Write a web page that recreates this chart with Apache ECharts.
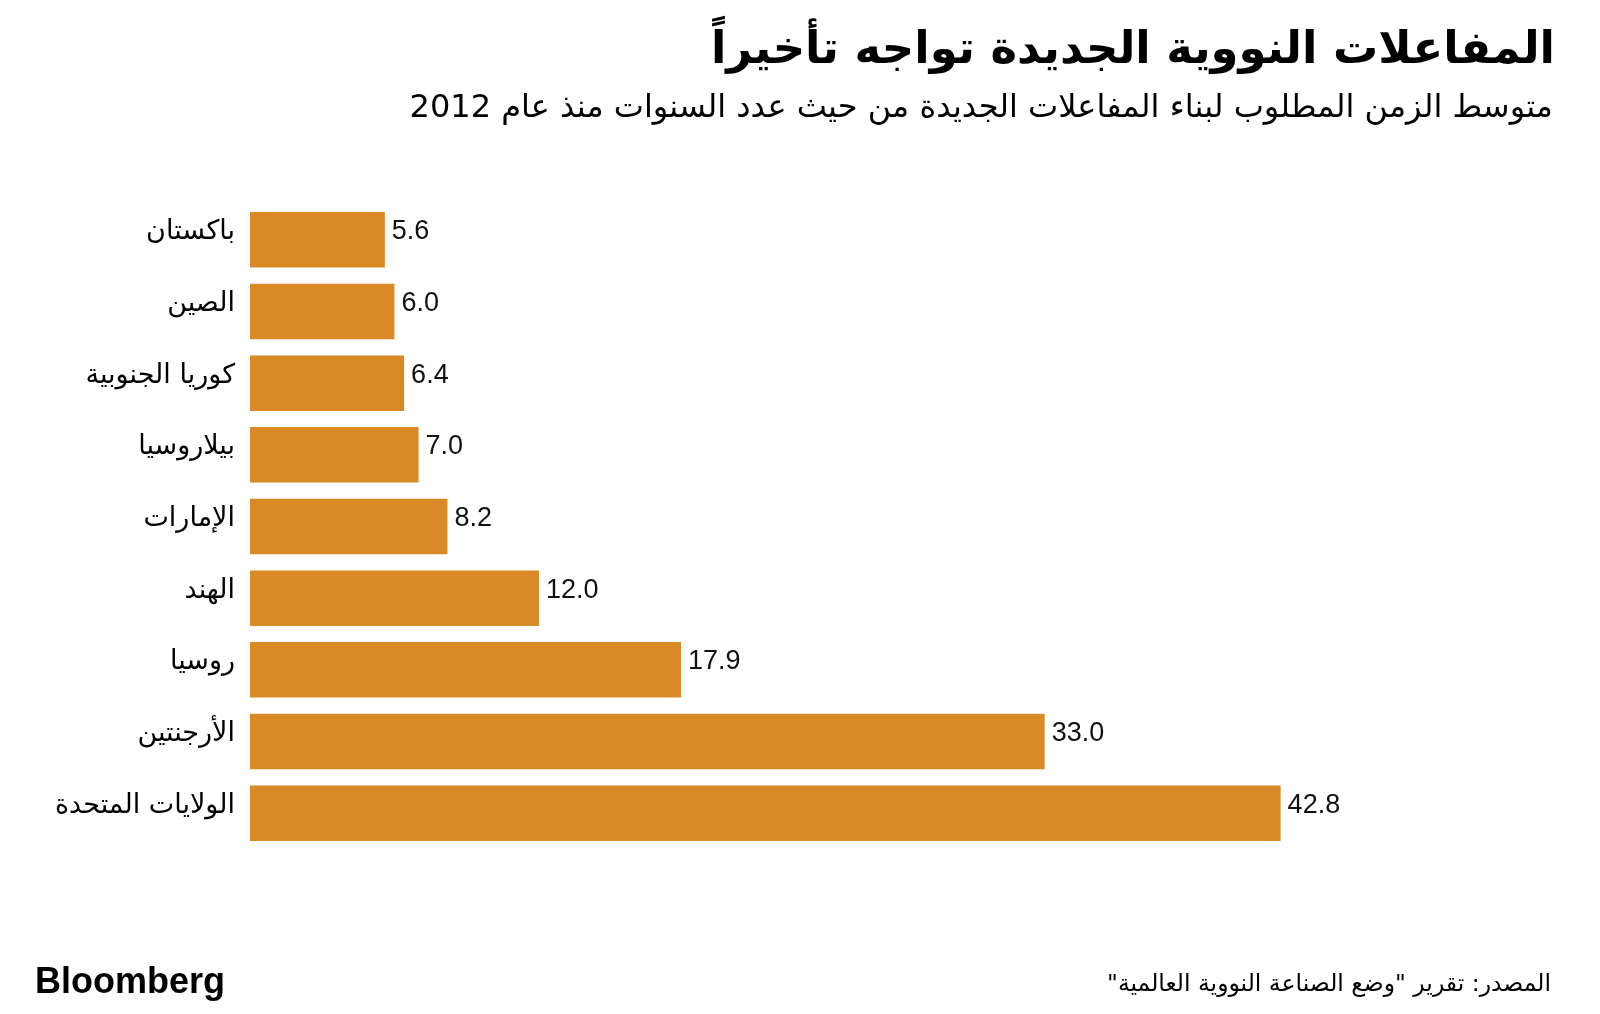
<!DOCTYPE html>
<html dir="rtl">
<head>
<meta charset="utf-8">
<script src="https://cdn.jsdelivr.net/npm/echarts@6/dist/echarts.min.js"></script>
<style>
html,body{margin:0;padding:0;background:#fff;}
#c{width:1600px;height:1014px;}
</style>
</head>
<body>
<div id="c"></div>
<script>
const categories = ["باكستان","الصين","كوريا الجنوبية","بيلاروسيا","الإمارات","الهند","روسيا","الأرجنتين","الولايات المتحدة"];
const values = [5.6, 6.0, 6.4, 7.0, 8.2, 12.0, 17.9, 33.0, 42.8];
const titleText = "المفاعلات النووية الجديدة تواجه تأخيراً";
const subtitleText = "متوسط الزمن المطلوب لبناء المفاعلات الجديدة من حيث عدد السنوات منذ عام 2012";
const sourceText = "المصدر: تقرير \"وضع الصناعة النووية العالمية\"";
const brandText = "Bloomberg";

const chart = echarts.init(document.getElementById('c'), null, {renderer:'canvas'});
chart.setOption({
  animation:false,
  backgroundColor:'#fff',
  title:[
    {text:titleText, right:40, top:24, textStyle:{fontSize:45, fontWeight:'bold', color:'#000', fontFamily:'DejaVu Sans'}},
    {text:subtitleText, right:42, top:88, textStyle:{fontSize:32, fontWeight:'normal', color:'#000', fontFamily:'DejaVu Sans'}},
    {text:sourceText, right:44, top:968, textStyle:{fontSize:23.5, fontWeight:'normal', color:'#000', fontFamily:'DejaVu Sans'}},
    {text:brandText, left:30, top:960, textStyle:{fontSize:36, fontWeight:'bold', color:'#000', fontFamily:'Liberation Sans'}}
  ],
  grid:{left:250, top:204, width:1204, height:645, containLabel:false},
  xAxis:{type:'value', min:0, max:50, show:false},
  yAxis:{type:'category', data:categories, inverse:true,
    axisLine:{show:false}, axisTick:{show:false},
    axisLabel:{margin:15, fontSize:27, color:'#000', fontFamily:'DejaVu Sans', verticalAlign:'bottom', lineHeight:15}},
  series:[{type:'bar', data:values, barCategoryGap:'22.6%',
    itemStyle:{color:'#D98A26'},
    label:{show:true, position:'right', distance:7, offset:[0,-8], fontSize:27, color:'#111', fontFamily:'Liberation Sans',
      formatter:p=>p.value.toFixed(1)}}]
});
</script>
</body>
</html>
